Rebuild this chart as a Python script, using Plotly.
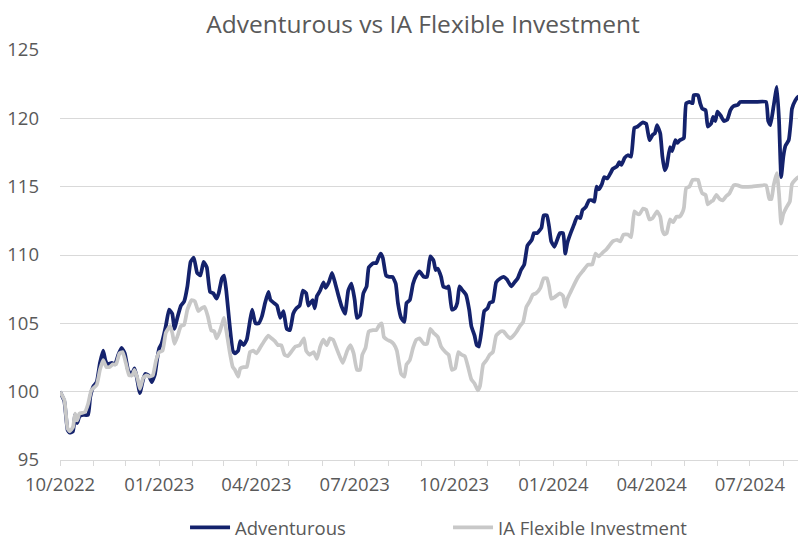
import pandas as pd
import plotly.graph_objects as go

start_date = "2022-10-01"

# Adventurous: days since start, value (rebased to 100)
adv_days = [0, 4, 7, 9, 12, 14, 16, 18, 21, 26, 28, 31, 34, 37, 40, 42, 44, 48, 51, 54, 57, 60, 63, 66, 69, 71,
            74, 77, 79, 82, 85, 88, 90, 92, 94, 98, 101, 104, 106, 109, 112, 115,
            118, 121, 124, 127, 130, 133, 136, 139, 142, 145, 147, 150, 152, 154, 157, 160, 162, 165, 167, 170,
            173, 176, 178, 181, 184, 187, 190, 193, 195, 198, 201, 204, 207, 210, 213, 216, 219, 222, 225, 228, 230,
            232, 234, 236, 238, 241, 244, 246, 249, 252, 255, 258, 261, 264, 267, 270, 273, 275, 278, 281, 284, 286,
            290, 293, 295, 297, 299, 302, 305, 308, 311, 313, 316, 319, 321, 324, 327, 330, 333, 337, 340, 343, 346,
            348, 350, 353, 355, 358, 360, 363, 366, 368, 370, 373, 376, 379, 381, 384, 386, 388, 391, 393, 396, 398,
            401, 404, 408, 411, 414, 418, 421, 424, 427, 430, 433, 437, 439, 442, 446, 448, 451, 453, 455, 458,
            463, 466, 468, 470, 473, 476, 479, 482, 484, 487, 490, 493, 495, 497, 499, 502, 504, 507, 510, 512, 516,
            518, 520, 523, 526, 529, 532, 535, 538, 540, 543, 546, 549, 551, 553, 556, 558, 560, 562, 565, 567, 570,
            572, 574, 577, 578, 580, 583, 586, 587, 591, 593, 595, 598, 600, 603, 605, 607, 609, 612, 615, 618, 621,
            624, 628, 630, 634, 644, 654, 656, 658, 661, 664, 666, 668, 670, 672, 675, 677, 678, 681, 684, 687, 690]
adv_values = [100.0, 99.3, 97.2, 97.0, 97.1, 98.3, 97.7, 98.2, 98.3, 98.3, 99.6, 100.4, 100.7, 102.1, 103.0, 102.3,
              102.0, 102.1, 102.0, 102.7, 103.2, 102.8, 101.6, 101.2, 101.7, 101.1,
              99.9, 100.9, 101.3, 101.2, 100.7, 101.3, 102.4, 103.2, 103.5, 104.8, 106.0, 105.7, 104.6, 105.5, 106.3,
              106.6,
              107.7, 109.5, 109.8, 108.7, 108.5, 109.5, 109.1, 107.3, 107.2, 106.8, 107.2, 108.3, 108.5, 107.4, 105.0,
              103.0, 102.8, 103.0, 103.7, 103.4,
              103.8, 105.2, 106.0, 105.0, 105.0, 105.5, 106.5, 107.3, 106.7, 106.5, 106.3, 105.4, 105.9, 104.6, 104.5,
              105.7, 106.1, 106.3, 107.4, 107.2, 106.3,
              106.5, 106.7, 106.1, 107.0, 107.4, 108.0, 107.6, 108.0, 108.7, 107.9, 107.0, 106.2, 105.7, 107.4, 107.9,
              106.7, 105.4, 105.6, 107.2, 107.7, 109.1,
              109.4, 109.4, 109.8, 110.1, 109.8, 108.5, 108.4, 108.4, 107.9, 106.5, 105.4, 105.1, 106.5, 106.7, 107.9,
              108.5, 108.8, 108.4, 108.4, 109.9, 109.6,
              108.9, 109.0, 108.4, 107.7, 107.6, 107.7, 106.0, 106.1, 106.5, 107.7, 107.4, 107.1, 106.0, 104.8, 104.1,
              103.4, 103.3, 104.8, 105.9, 106.1, 106.5,
              106.6, 108.0, 108.3, 108.4, 108.2, 107.7, 108.0, 108.3, 108.9, 109.3, 110.7, 111.1, 111.6, 111.6, 112.0,
              112.9, 112.9, 112.1, 111.0, 110.6,
              111.6, 111.6, 110.1, 110.9, 111.6, 112.2, 112.8, 112.7, 113.3, 113.5, 114.0, 114.0, 113.9, 115.0, 114.8,
              115.2, 115.7, 115.6, 116.0, 116.3, 116.5,
              116.8, 116.6, 117.1, 117.3, 117.2, 119.3, 119.4, 119.6, 119.7, 119.6, 118.4, 118.8, 118.9, 119.5, 118.9,
              117.2, 116.2, 116.5, 117.9, 117.6, 118.4,
              118.2, 118.4, 118.5, 118.6, 121.1, 121.2, 121.1, 121.7, 121.7, 121.1, 120.7, 120.6, 119.4, 119.6, 120.1,
              119.8, 120.5, 120.2, 119.8, 119.9, 120.6,
              120.9, 121.0, 121.2, 121.2, 121.2, 121.2, 119.8, 119.5, 120.9, 122.3, 119.9, 115.7, 117.2, 118.0, 118.4,
              119.8, 120.7, 121.3, 121.6, 121.2, 121.1]

# IA Flexible Investment: days since start, value (rebased to 100)
ia_days = [0, 4, 7, 9, 12, 14, 16, 18, 23, 26, 29, 34, 37, 40, 43, 46, 49, 52, 55, 58, 61, 64, 67, 69, 72, 74, 77,
           80, 83, 86, 89, 92, 95, 98, 102, 104, 106, 109, 112, 115,
           118, 122, 125, 128, 131, 134, 137, 140, 143, 145, 148, 152, 154, 157, 160, 162, 165, 167, 170, 173, 176,
           179, 182, 186, 190, 193, 196, 199, 202, 205, 208, 211, 215, 218, 222, 226, 228, 231,
           235, 238, 241, 244, 247, 250, 253, 256, 259, 262, 266, 269, 272, 275, 278, 280, 283, 286, 290, 293, 296,
           298, 300, 303, 306, 309, 312, 314, 316, 319, 321, 324, 327, 330, 333, 337, 340, 343, 346,
           350, 353, 357, 360, 363, 366, 369, 372, 375, 378, 381, 384, 387, 389, 392, 395, 398, 401, 404, 408, 411,
           414, 417, 420, 423, 426, 429, 432, 435, 438, 441, 445, 448, 451, 453, 455, 458,
           463, 466, 468, 470, 473, 476, 480, 485, 489, 493, 496, 499, 503, 506, 509, 512, 516, 519, 522, 526, 529,
           532, 535, 537, 540, 543, 546, 549, 553, 556, 558, 560, 562, 565, 568, 571, 574, 577, 578,
           580, 583, 586, 591, 593, 595, 598, 600, 603, 605, 608, 611, 614, 617, 620, 624, 628, 631, 641, 654, 657,
           659, 661, 664, 666, 668, 670, 673, 676, 678, 681, 684, 687, 690]
ia_values = [100.0, 99.4, 97.3, 97.1, 97.4, 98.4, 97.9, 98.4, 98.5, 99.1, 100.1, 100.5, 101.6, 102.3, 101.8, 101.8,
             102.0, 102.0, 102.8, 102.9, 102.1, 101.2, 101.2, 101.6, 100.9, 100.2, 101.0,
             101.2, 101.1, 101.2, 102.3, 102.9, 103.0, 104.3, 104.8, 104.3, 103.5, 104.1, 104.8, 104.9,
             106.0, 106.7, 106.6, 105.9, 106.1, 106.2, 105.5, 104.5, 104.4, 103.9, 104.4, 105.4, 104.5, 103.0, 101.8,
             101.6, 101.1, 101.7, 101.8, 101.8, 102.9,
             103.0, 102.8, 103.3, 103.8, 104.1, 103.9, 103.7, 103.4, 103.4, 102.7, 102.6, 103.0, 103.3, 103.4, 103.9,
             103.0, 102.7,
             102.9, 102.4, 103.3, 103.8, 103.4, 103.9, 103.8, 103.2, 102.6, 102.1, 103.0, 103.4, 102.8, 101.6, 101.6,
             102.7, 103.2, 104.4, 104.5, 104.5, 104.9,
             105.0, 104.0, 103.8, 103.7, 103.5, 103.0, 102.1, 101.3, 101.1, 102.0, 102.3, 103.2, 103.8, 103.9, 103.5,
             103.5, 104.6, 104.3,
             104.0, 103.3, 102.9, 102.7, 101.6, 101.7, 102.9, 102.7, 102.6, 101.8, 100.9, 100.6, 100.1, 100.4, 102.0,
             102.3, 102.7, 102.9, 104.1, 104.4, 104.4,
             104.1, 103.9, 104.1, 104.4, 104.8, 105.1, 106.2, 106.6, 107.1, 107.2, 107.6, 108.3, 108.3, 107.7, 106.8,
             106.9,
             107.2, 107.0, 106.2, 106.8, 107.3, 107.8, 108.4, 108.9, 109.3, 109.3, 110.1, 109.9, 110.2, 110.4, 110.7,
             111.0, 111.1, 111.0, 111.5, 111.5, 111.3,
             113.2, 113.0, 113.0, 113.4, 113.3, 112.6, 112.7, 113.2, 112.8, 111.8, 111.5, 111.6, 112.6, 112.4, 112.8,
             112.8, 113.2, 113.5,
             114.9, 115.0, 115.5, 115.5, 114.9, 114.5, 114.4, 113.7, 113.9, 114.0, 114.4, 114.1, 114.0, 114.3, 114.5,
             115.1, 115.1, 115.0, 115.0, 115.1, 114.1,
             114.1, 115.1, 116.0, 114.5, 112.3, 113.0, 113.5, 113.9, 115.2, 115.5, 115.7, 115.5, 115.4]

x_range = ["2022-10-01", "2024-08-22"]
y_range = [95, 125]
y_ticks = [95, 100, 105, 110, 115, 120, 125]

base = pd.Timestamp(start_date)
adv_dates = [base + pd.Timedelta(days=d) for d in adv_days]
ia_dates = [base + pd.Timedelta(days=d) for d in ia_days]

navy = "#14226C"
grey = "#C8C8C8"
text_col = "#595959"
font_family = "Open Sans"

fig = go.Figure()
fig.add_trace(go.Scatter(x=adv_dates, y=adv_values, mode="lines", name="Adventurous",
                         line=dict(color=navy, width=3.75, shape="spline", smoothing=0.4), legendrank=1))
fig.add_trace(go.Scatter(x=ia_dates, y=ia_values, mode="lines", name="IA Flexible Investment",
                         line=dict(color=grey, width=3.75, shape="spline", smoothing=0.4), legendrank=2))

# the page body keeps its default 8px margin, so the figure is sized to fit the 806x540 window
fig.update_layout(
    width=798, height=532,
    margin=dict(l=52, r=0, t=42, b=80, autoexpand=False),
    paper_bgcolor="white", plot_bgcolor="white",
    font=dict(family=font_family, color=text_col, size=18),
    title=dict(text="Adventurous vs IA Flexible Investment", x=0.520, xanchor="center",
               y=0.970, yanchor="middle", font=dict(size=24.5, color=text_col)),
    showlegend=True,
    legend=dict(orientation="h", x=0.1676, xanchor="left", y=-0.119, yanchor="top",
                font=dict(size=18.5, color=text_col), entrywidth=208, itemwidth=40),
)
fig.update_xaxes(
    type="date", range=x_range, tick0="2022-10-01", dtick="M3", tickformat="%m/%Y",
    showgrid=False, showline=True, linecolor="#D9D9D9", linewidth=1,
    ticks="outside", ticklen=5, tickcolor="#D9D9D9",
    minor=dict(dtick="M1", ticks="outside", ticklen=5, tickcolor="#D9D9D9"),
    ticklabelstandoff=3, tickfont=dict(size=18.5, color=text_col), zeroline=False, automargin=False,
)
fig.update_yaxes(
    range=y_range, tickvals=y_ticks, showgrid=True, gridcolor="#D9D9D9", gridwidth=1,
    showline=False, zeroline=False, ticklabelstandoff=20, tickfont=dict(size=18.5, color=text_col),
    automargin=False,
)

fig.write_html("out.html")
